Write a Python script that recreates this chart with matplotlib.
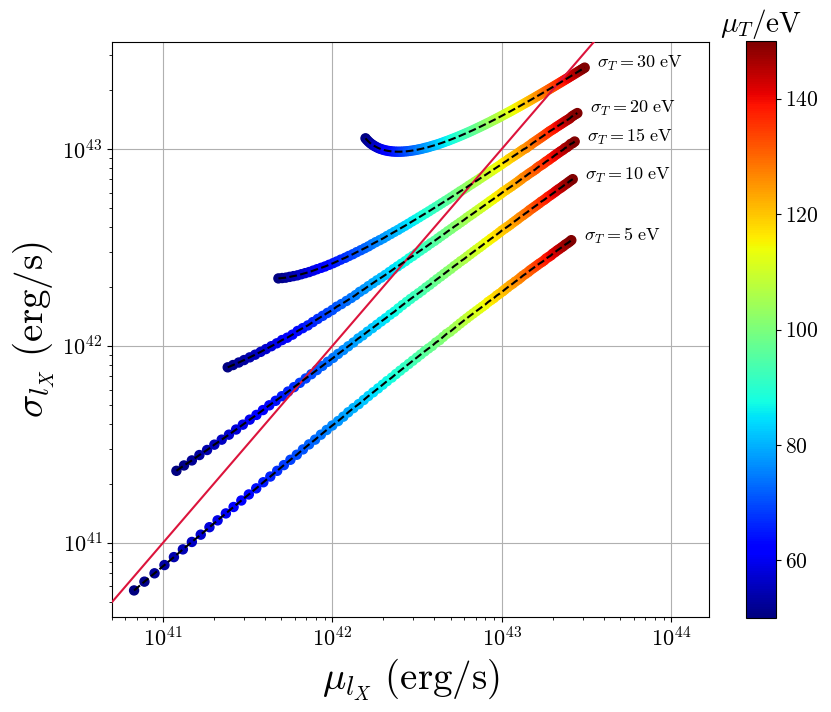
import numpy as np
import matplotlib
matplotlib.use("Agg")
import matplotlib.pyplot as plt

# mean temperature of each point (eV), same for every curve
mu_T = list(range(50, 151))
sigma_T = [5, 10, 15, 20, 30]

# mean / spread of l_X for each sigma_T, in units of 1e40 erg/s
mu_lx_5 = [6.75, 7.77, 8.91, 10.2, 11.6, 13.1, 14.8, 16.7, 18.8, 21, 23.5, 26.1, 29, 32.1, 35.5, 39.1, 43, 47.2, 51.7, 56.5, 61.6, 67, 72.8, 79, 85.5, 92.5, 99.8, 108, 116, 124, 133, 143, 153, 163, 174, 186, 198, 210, 224, 237, 251, 266, 282, 298, 315, 332, 350, 369, 388, 408, 429, 450, 472, 495, 519, 543, 568, 594, 621, 648, 677, 706, 736, 766, 798, 830, 864, 898, 933, 969, 1010, 1040, 1080, 1120, 1160, 1200, 1250, 1290, 1330, 1380, 1430, 1470, 1520, 1570, 1620, 1670, 1730, 1780, 1830, 1890, 1950, 2000, 2060, 2120, 2180, 2250, 2310, 2370, 2440, 2510, 2570]
sig_lx_5 = [5.73, 6.35, 7, 7.71, 8.46, 9.26, 10.1, 11, 12, 13, 14.1, 15.2, 16.4, 17.6, 18.9, 20.3, 21.7, 23.2, 24.8, 26.4, 28, 29.8, 31.6, 33.4, 35.4, 37.4, 39.4, 41.5, 43.7, 46, 48.3, 50.6, 53.1, 55.6, 58.1, 60.8, 63.5, 66.2, 69, 71.9, 74.8, 77.8, 80.9, 84, 87.2, 90.4, 93.7, 97, 100, 104, 107, 111, 115, 118, 122, 126, 130, 134, 138, 142, 146, 150, 154, 158, 162, 167, 171, 175, 180, 184, 189, 193, 198, 203, 207, 212, 217, 222, 227, 232, 237, 242, 247, 252, 257, 262, 267, 272, 278, 283, 288, 294, 299, 305, 310, 316, 321, 327, 332, 338, 344]

mu_lx_10 = [12, 13.3, 14.8, 16.4, 18.2, 20.1, 22.2, 24.5, 27, 29.6, 32.5, 35.6, 38.9, 42.4, 46.2, 50.3, 54.7, 59.3, 64.2, 69.5, 75.1, 81, 87.2, 93.9, 101, 108, 116, 124, 133, 142, 151, 161, 172, 183, 194, 206, 219, 232, 245, 259, 274, 289, 305, 322, 339, 357, 375, 394, 414, 435, 456, 477, 500, 523, 547, 572, 598, 624, 651, 679, 707, 737, 767, 798, 830, 863, 897, 931, 967, 1000, 1040, 1080, 1120, 1160, 1200, 1240, 1280, 1330, 1370, 1420, 1460, 1510, 1560, 1610, 1660, 1710, 1770, 1820, 1870, 1930, 1990, 2050, 2100, 2160, 2230, 2290, 2350, 2420, 2480, 2550, 2620]
sig_lx_10 = [23.2, 24.7, 26.2, 27.9, 29.6, 31.5, 33.4, 35.4, 37.6, 39.8, 42.2, 44.6, 47.2, 49.9, 52.6, 55.5, 58.6, 61.7, 64.9, 68.3, 71.8, 75.4, 79.1, 83, 86.9, 91, 95.2, 99.5, 104, 109, 113, 118, 123, 128, 133, 138, 144, 149, 155, 161, 167, 173, 179, 185, 191, 198, 204, 211, 218, 225, 232, 239, 246, 254, 261, 269, 276, 284, 292, 300, 308, 316, 324, 333, 341, 350, 358, 367, 376, 385, 394, 403, 412, 422, 431, 440, 450, 460, 469, 479, 489, 499, 509, 519, 529, 540, 550, 560, 571, 581, 592, 603, 613, 624, 635, 646, 657, 668, 679, 691, 702]

mu_lx_15 = [24.1, 25.9, 28, 30.1, 32.5, 35, 37.7, 40.5, 43.6, 46.9, 50.4, 54.1, 58.1, 62.3, 66.8, 71.6, 76.6, 81.9, 87.6, 93.5, 99.8, 106, 113, 121, 129, 137, 145, 154, 163, 173, 183, 194, 205, 217, 229, 242, 255, 269, 283, 298, 313, 329, 346, 363, 381, 400, 419, 438, 459, 480, 502, 524, 547, 571, 596, 621, 647, 674, 702, 731, 760, 790, 821, 852, 885, 918, 953, 988, 1020, 1060, 1100, 1140, 1180, 1220, 1260, 1300, 1340, 1390, 1430, 1480, 1530, 1580, 1620, 1670, 1730, 1780, 1830, 1890, 1940, 2000, 2050, 2110, 2170, 2230, 2300, 2360, 2420, 2490, 2550, 2620, 2690]
sig_lx_15 = [77.8, 79.9, 82.3, 84.7, 87.4, 90.2, 93.2, 96.3, 99.6, 103, 107, 110, 114, 119, 123, 127, 132, 137, 142, 147, 152, 158, 163, 169, 175, 181, 188, 194, 201, 208, 215, 222, 229, 237, 245, 253, 261, 269, 278, 286, 295, 304, 313, 322, 332, 341, 351, 361, 371, 382, 392, 403, 413, 424, 435, 447, 458, 469, 481, 493, 505, 517, 529, 542, 554, 567, 580, 593, 606, 619, 633, 646, 660, 673, 687, 701, 716, 730, 744, 759, 773, 788, 803, 818, 833, 848, 864, 879, 895, 910, 926, 942, 958, 974, 990, 1010, 1020, 1040, 1060, 1070, 1090]

mu_lx_20 = [48, 50.5, 53.1, 55.9, 58.9, 62.1, 65.5, 69.1, 72.9, 77, 81.2, 85.8, 90.5, 95.6, 101, 106, 112, 119, 125, 132, 139, 147, 155, 163, 171, 180, 190, 200, 210, 221, 232, 244, 256, 268, 281, 295, 309, 324, 339, 355, 371, 388, 406, 424, 442, 462, 482, 502, 524, 546, 568, 592, 616, 640, 666, 692, 719, 747, 775, 805, 835, 866, 897, 930, 963, 997, 1030, 1070, 1100, 1140, 1180, 1220, 1260, 1300, 1340, 1390, 1430, 1480, 1520, 1570, 1620, 1670, 1720, 1770, 1820, 1870, 1920, 1980, 2040, 2090, 2150, 2210, 2270, 2330, 2390, 2460, 2520, 2590, 2650, 2720, 2790]
sig_lx_20 = [220, 221, 222, 224, 226, 228, 231, 234, 237, 241, 245, 249, 253, 258, 263, 268, 274, 280, 286, 292, 299, 306, 313, 320, 328, 336, 344, 352, 361, 370, 379, 388, 398, 407, 417, 428, 438, 449, 460, 471, 482, 494, 506, 518, 530, 543, 555, 568, 582, 595, 609, 622, 636, 651, 665, 680, 694, 710, 725, 740, 756, 772, 788, 804, 820, 837, 854, 871, 888, 905, 923, 940, 958, 976, 994, 1010, 1030, 1050, 1070, 1090, 1110, 1130, 1150, 1170, 1190, 1210, 1230, 1250, 1270, 1290, 1310, 1330, 1350, 1370, 1390, 1410, 1430, 1460, 1480, 1500, 1520]

mu_lx_30 = [156.8, 160.2, 163.8, 167.6, 171.8, 176.1, 180.8, 185.7, 190.9, 196.4, 202.2, 208.2, 214.6, 221.3, 228.3, 235.7, 243.3, 251.4, 259.7, 268.5, 277.6, 287, 296.9, 307.2, 317.8, 328.9, 340.4, 352.4, 364.8, 377.6, 390.9, 404.7, 419, 433.8, 449, 464.8, 481.1, 498, 515.4, 533.4, 551.9, 571, 590.7, 611, 631.9, 653.5, 675.6, 698.4, 721.9, 746, 770.8, 796.3, 822.5, 849.4, 877, 905.3, 934.4, 964.2, 994.8, 1026, 1058, 1091, 1125, 1159, 1195, 1231, 1268, 1305, 1344, 1384, 1424, 1465, 1507, 1550, 1594, 1639, 1685, 1732, 1779, 1828, 1878, 1928, 1980, 2032, 2086, 2140, 2196, 2252, 2310, 2368, 2428, 2488, 2550, 2613, 2676, 2741, 2807, 2874, 2942, 3012, 3082]
sig_lx_30 = [1132, 1108, 1087, 1068, 1052, 1037, 1024, 1012, 1002, 994, 986.8, 980.9, 976.2, 972.6, 970, 968.4, 967.8, 968, 969.1, 971, 973.6, 977, 981.2, 986, 991.4, 997.5, 1004, 1012, 1019, 1028, 1037, 1046, 1056, 1067, 1078, 1090, 1101, 1114, 1127, 1140, 1154, 1168, 1183, 1198, 1213, 1229, 1245, 1262, 1279, 1296, 1314, 1332, 1351, 1369, 1389, 1408, 1428, 1448, 1469, 1490, 1511, 1532, 1554, 1576, 1599, 1622, 1645, 1668, 1692, 1716, 1740, 1764, 1789, 1814, 1840, 1865, 1891, 1917, 1944, 1970, 1997, 2024, 2052, 2080, 2108, 2136, 2164, 2193, 2222, 2251, 2280, 2310, 2340, 2370, 2400, 2430, 2461, 2492, 2523, 2554, 2586]

# sigma = mu reference line
ref_line = [1e40, 1e45]
cbar_ticks = [60, 80, 100, 120, 140]

curves = {5: (mu_lx_5, sig_lx_5), 10: (mu_lx_10, sig_lx_10), 15: (mu_lx_15, sig_lx_15),
          20: (mu_lx_20, sig_lx_20), 30: (mu_lx_30, sig_lx_30)}

plt.rcParams['font.family'] = 'serif'
plt.rcParams['font.serif'] = ['cmr10']
plt.rcParams['mathtext.fontset'] = 'cm'
plt.rcParams['axes.formatter.use_mathtext'] = True

fig = plt.figure(figsize=(8.31, 7.12), dpi=100)
ax = fig.add_axes([112 / 831, 1 - 617 / 712, 597 / 831, 575 / 712])

for s in sigma_T:
    x = np.array(curves[s][0]) * 1e40
    y = np.array(curves[s][1]) * 1e40
    sc = ax.scatter(x, y, c=mu_T, cmap='jet', vmin=50, vmax=150, s=42, zorder=2)
    ax.plot(x, y, 'k--', lw=1.5, zorder=4)
    ax.annotate(r'$\sigma_T = %d\ \mathrm{eV}$' % s, (x[-1], y[-1]), xytext=(9, 3),
                textcoords='offset points', fontsize=13, va='center', ha='left')

ax.plot(ref_line, ref_line, color='crimson', lw=1.5, zorder=3)

ax.set_xscale('log')
ax.set_yscale('log')
ax.set_xlim(5e40, 1.67e44)
ax.set_ylim(4.2e40, 3.49e43)
ax.grid(True)
ax.tick_params(labelsize=16)
ax.set_xlabel(r'$\mu_{l_X}\ \mathrm{(erg/s)}$', fontsize=28)
ax.set_ylabel(r'$\sigma_{l_X}\ \mathrm{(erg/s)}$', fontsize=28)

cax = fig.add_axes([746 / 831, 1 - 618 / 712, 29.5 / 831, 577 / 712])
cb = fig.colorbar(sc, cax=cax)
cb.set_ticks(cbar_ticks)
cax.tick_params(labelsize=15.5)
cax.set_title(r'$\mu_T/\mathrm{eV}$', fontsize=21)

fig.savefig("out.png", dpi=100)
